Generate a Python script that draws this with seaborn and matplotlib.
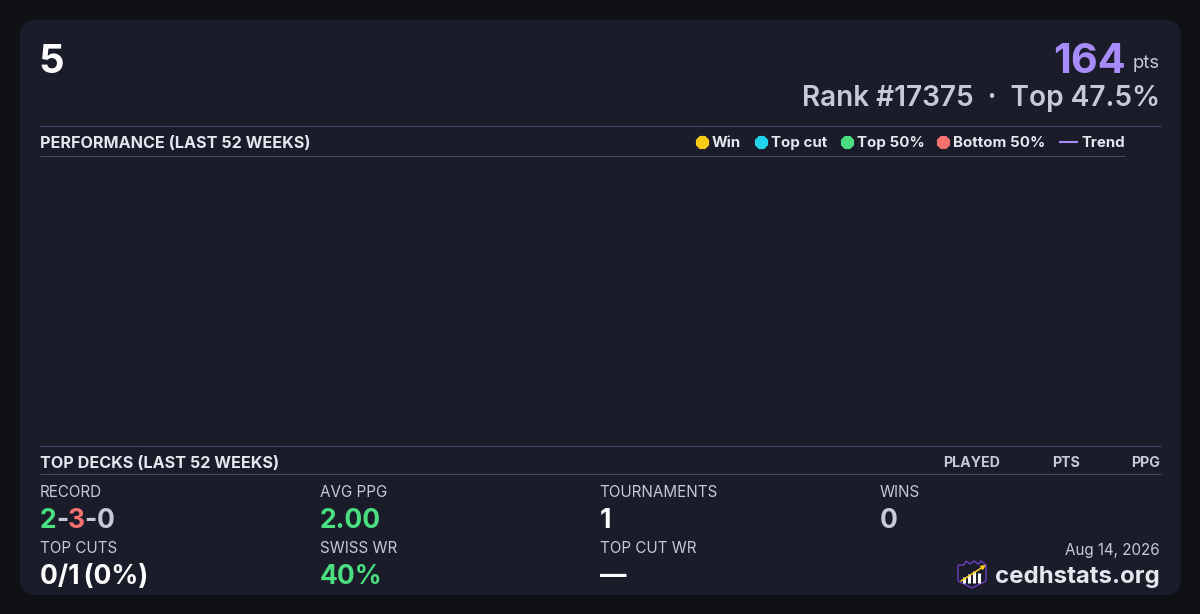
import matplotlib
matplotlib.use('Agg')
import matplotlib.pyplot as plt
import pandas as pd
import seaborn as sns
from matplotlib.patches import FancyBboxPatch, Polygon

# Data
player = '5'
points = '164'
rank_line = 'Rank #17375  ·  Top 47.5%'
legend_names = ['Win', 'Top cut', 'Top 50%', 'Bottom 50%']
legend_colors = ['#facc15', '#22d3ee', '#4ade80', '#f87171']
deck_columns = ['PLAYED', 'PTS', 'PPG']
stat_labels = ['RECORD', 'AVG PPG', 'TOURNAMENTS', 'WINS', 'TOP CUTS', 'SWISS WR', 'TOP CUT WR']
stat_values = ['', '2.00', '1', '0', '0/1\u2009(0%)', '40%', '—']
stat_colors = ['', '#4ade80', '#ffffff', '#c4cad6', '#ffffff', '#4ade80', '#ffffff']
record = ['2', '-', '3', '-', '0']
record_colors = ['#4ade80', '#c4cad6', '#f87171', '#c4cad6', '#c4cad6']
# no games charted in the last 52 weeks
perf = pd.DataFrame({'week': pd.Series(dtype=float), 'ppg': pd.Series(dtype=float)})

sns.set_theme(style='dark')
plt.rcParams['font.family'] = ['Inter', 'DejaVu Sans']

BG = '#0f1115'
CARD = '#1a1d29'
RULE = '#3f4d6b'
LIGHT = '#e2e7f0'
MUTED = '#c4cad6'
PX = 0.72

fig = plt.figure(figsize=(12, 6.14), dpi=100, facecolor=BG)
ax = fig.add_axes([0, 0, 1, 1])
ax.set_xlim(0, 1200)
ax.set_ylim(614, 0)
ax.axis('off')

ax.add_patch(FancyBboxPatch((36, 36), 1128, 543, boxstyle='round,pad=0,rounding_size=16',
                            mutation_aspect=1, fc=CARD, ec='none', zorder=0))
ax.patches[0].set_bounds(20, 20, 1161, 575)


def txt(x, y, s, size, color=LIGHT, weight='normal', ha='left'):
    return ax.text(x, y, s, fontsize=size * PX, color=color, fontweight=weight, ha=ha, va='baseline')


def rule(y, x0=40, x1=1160.5):
    ax.plot([x0, x1], [y, y], color=RULE, lw=0.72, solid_capstyle='butt')


# header
txt(38.5, 73, player, 40, '#ffffff', 'bold')
txt(1126, 73, points, 41.5, '#a78bfa', 'bold', ha='right')
txt(1160, 68, 'pts', 18.5, MUTED, ha='right')
txt(1160, 106, rank_line, 28, MUTED, 'semibold', ha='right')

# performance section
rule(126)
rule(156, x1=1125)
txt(40, 148, 'PERFORMANCE (LAST 52 WEEKS)', 16.15, LIGHT, 'bold')

legend_x = [702, 761, 847, 943]
label_x = [712, 771, 857, 953]
for lx, tx, name, col in zip(legend_x, label_x, legend_names, legend_colors):
    ax.scatter([lx], [142], s=105, marker='8', color=col, linewidths=0, zorder=3)
    txt(tx, 147, name, 15.1, LIGHT, 'bold')
ax.plot([1059, 1078], [142, 142], color='#a78bfa', lw=1.5, solid_capstyle='butt')
txt(1081, 147, 'Trend', 15, LIGHT, 'bold')

# empty chart, nothing to plot
chart = fig.add_axes([40 / 1200, 1 - 446 / 614, 1085 / 1200, 289 / 614])
sns.scatterplot(data=perf, x='week', y='ppg', ax=chart)
chart.axis('off')

# top decks section
rule(446)
rule(474)
txt(40, 468, 'TOP DECKS (LAST 52 WEEKS)', 16.15, LIGHT, 'bold')
for x, name in zip([1000, 1080, 1160], deck_columns):
    txt(x, 467, name, 14.2, MUTED, 'bold', ha='right')

# stats grid
grid_x = [40, 320, 599.5, 880, 40, 320, 600]
grid_y = [497, 497, 497, 497, 553, 553, 553]
for x, y, lab, val, col in zip(grid_x, grid_y, stat_labels, stat_values, stat_colors):
    txt(x, y, lab, 15.2, MUTED)
    if val:
        txt(x, y + 31, val, 26.5, col, 'bold')

# record is several colours on one line
fig.canvas.draw()
rend = fig.canvas.get_renderer()
x = 40
for part, col in zip(record, record_colors):
    t = txt(x, 528, part, 26.5, col, 'bold')
    x += t.get_window_extent(rend).width - 0.5

# footer
txt(1160, 555, 'Aug 14, 2026', 15.2, MUTED, ha='right')
txt(1160, 583, 'cedhstats.org', 24, LIGHT, 'bold', ha='right')

# logo
shield = [(958, 565), (964, 565), (966, 561), (970, 564), (974, 561), (978, 564), (981, 561), (986, 565),
          (986, 581), (972, 588), (958, 581)]
ax.add_patch(Polygon(shield, closed=True, fc='none', ec='#6d3fc0', lw=1.0))
for bx, by in zip([964, 969, 974, 979], [577, 574, 571, 573]):
    ax.plot([bx, bx], [by, 583], color='#ffffff', lw=2.2, solid_capstyle='butt')
ax.annotate('', xy=(986, 565), xytext=(961, 581),
            arrowprops=dict(arrowstyle='-|>', color='#facc15', lw=1.1, mutation_scale=6, shrinkA=0, shrinkB=0))

fig.savefig('out.png', dpi=100, facecolor=BG)
